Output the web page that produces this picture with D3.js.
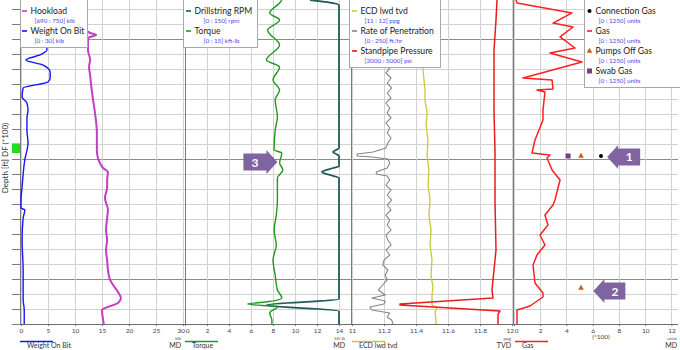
<!DOCTYPE html>
<html>
<head>
<meta charset="utf-8">
<script src="https://cdn.jsdelivr.net/npm/d3@7"></script>
<style>
  html, body { margin: 0; padding: 0; background: #fff; }
  svg { display: block; font-family: Lato, "Open Sans", sans-serif; }
</style>
</head>
<body>
<svg id="chart" width="680" height="350"></svg>
<script>
// ---- Log data: [depth ft, value] ----
const weightOnBit = [[5367.5,4.5],[5409.2,4.8],[5413.3,3.5],[5417.5,0.9],[5421.7,4.1],[5427.5,5.4],[5432.5,5.4],[5435.8,5.0],[5440.8,0.4],[5448.3,0.2],[5453.3,1.1],[5459.2,1.3],[5465.8,1.1],[5475.8,1.1],[5486.7,1.3],[5500.8,0.7],[5523.3,0.2],[5534.2,0],[5540.8,0],[5542.5,0.7],[5549.2,0.4],[5567.5,0.2],[5592.5,0.4],[5617.5,0.4],[5625.8,0.6],[5637.5,0.6]];
const hookload = [[5392.5,714.1],[5395,715.6],[5396.7,717.8],[5399.2,714.8],[5409.2,714.8],[5417.5,715.6],[5423.3,715.2],[5430,715.6],[5436.7,715.9],[5444.2,716.3],[5450.8,716.7],[5461.7,717.4],[5478.3,718.1],[5492.5,718.1],[5499.2,718.5],[5505,719.6],[5507.5,720.4],[5510.8,722.2],[5517.5,721.9],[5523.3,721.9],[5532.5,721.1],[5542.5,722.2],[5549.2,721.9],[5559.2,721.5],[5567.5,721.9],[5575.8,721.5],[5584.2,721.9],[5592.5,722.2],[5600.8,723],[5605,724.1],[5610.8,725.9],[5615.8,727],[5620,725.9],[5623.3,722.2],[5625.8,720],[5634.2,720.4],[5637.5,720.7]];
const drillstringRPM = [[5367.5,113.6],[5371.7,140],[5490.8,140],[5492.5,137.3],[5494.2,134.5],[5495.8,137.3],[5497.5,140],[5505.8,140],[5508.3,131.8],[5510.8,124.5],[5513.3,131.8],[5515.8,140],[5616.7,140],[5621.7,73.6],[5626.7,140],[5637.5,140]];
const torque = [[5367.5,8.8],[5370,8.6],[5378.3,7.7],[5384.2,8.6],[5392.5,7.5],[5405,8.6],[5417.5,7.4],[5423.3,8.6],[5434.2,8.0],[5442.5,8.6],[5450.8,8.2],[5465,8.4],[5475.8,8.2],[5492.5,8.1],[5495,8.8],[5503.3,8.6],[5509.2,8.9],[5515.8,8.4],[5525.8,8.4],[5534.2,8.4],[5546.7,8.3],[5559.2,8.1],[5571.7,8.3],[5584.2,8.0],[5596.7,8.2],[5609.2,8.4],[5615.8,8.8],[5619.2,7.3],[5620.8,5.7],[5623.3,8.4],[5628.3,7.7],[5634.2,7.9],[5637.5,7.9]];
const ecdLwdTvd = [[5417.5,11.444],[5425.8,11.444],[5434.2,11.45],[5442.5,11.456],[5450.8,11.456],[5461.7,11.469],[5471.7,11.463],[5484.2,11.475],[5496.7,11.469],[5509.2,11.481],[5521.7,11.475],[5534.2,11.488],[5546.7,11.481],[5559.2,11.494],[5571.7,11.488],[5584.2,11.5],[5596.7,11.494],[5606.7,11.506],[5613.3,11.5],[5621.7,11.5],[5624.2,11.531],[5627.5,11.519],[5634.2,11.525],[5637.5,11.525]];
const rateOfPenetration = [[5417.5,56],[5424.2,59],[5428.3,53],[5432.5,61],[5436.7,55],[5440.8,62],[5445,55],[5449.2,61],[5453.3,53],[5457.5,59],[5461.7,55],[5465.8,61],[5470,53],[5474.2,59],[5478.3,55],[5482.5,61],[5486.7,56],[5490.8,53],[5494.2,33],[5495.8,8],[5497.5,8],[5498.3,31],[5500,56],[5503.3,59],[5507.5,55],[5510.8,38],[5512.5,38],[5514.2,55],[5517.5,59],[5521.7,53],[5525.8,61],[5530,55],[5534.2,62],[5538.3,55],[5542.5,61],[5546.7,53],[5550.8,59],[5555,55],[5559.2,61],[5563.3,53],[5567.5,56],[5571.7,61],[5575.8,53],[5580,59],[5584.2,50],[5588.3,48],[5592.5,56],[5596.7,52],[5600.8,55],[5605,48],[5609.2,41],[5613.3,52],[5615.8,31],[5618.3,52],[5620.8,50],[5623.3,28],[5625.8,31],[5628.3,59],[5631.7,55],[5634.2,62],[5637.5,64]];
const standpipePressure = [[5367.5,4719],[5384.2,4700],[5409.2,4663],[5434.2,4663],[5461.7,4663],[5492.5,4681],[5534.2,4681],[5575.8,4700],[5609.2,4625],[5615.8,4644],[5620.8,2900],[5621.7,2900],[5626.7,4775],[5629.2,4738],[5637.5,4738]];
const gas = [[5367.5,15],[5370,23],[5378.3,442],[5386.7,297],[5390,450],[5398.3,351],[5407.5,465],[5411.7,274],[5419.2,518],[5432.5,69],[5434.2,290],[5441.7,297],[5442.5,175],[5444.2,236],[5459.2,221],[5467.5,221],[5484.2,160],[5495,137],[5496.7,274],[5499.2,252],[5509.2,290],[5517.5,351],[5534.2,312],[5538.3,297],[5546.7,236],[5555,259],[5563.3,198],[5571.7,236],[5580,175],[5588.3,145],[5603.3,160],[5611.7,221],[5615,221],[5622.5,122],[5625.8,23],[5637.5,23]];
const connectionGas = [[5497.5,663]];
const pumpsOffGas = [[5497.5,511],[5607.5,511]];
const swabGas = [[5497.5,412]];

// bottom tick labels for each track
const ticksTrack1 = [0,5,10,15,20,25,30];
const ticksTrack2 = [0,2,4,6,8,10,12,14];
const ticksTrack3 = [11,11.2,11.4,11.6,11.8,12];
const ticksTrack4 = [0,200,400,600,800,1000,1200];

// depth grid
const depthDomain = [5367.5, 5637.5];
const depthMinorStep = 12.5;
const depthMajor = [5400, 5500, 5600];
const bitDepth = [5487, 5495];

// callouts: label, depth, value on host scale, direction
const callouts = [
  {label: "1", depth: 5498.3, value: 710, track: 3, dir: "left", len: 33},
  {label: "2", depth: 5610,   value: 605, track: 3, dir: "left", len: 32},
  {label: "3", depth: 5502.5, value: 8.4, track: 1, dir: "right", len: 34}
];

// ---- Layout ----
const svg = d3.select("#chart");
const W = 680, plotTop = 0, plotBottom = 324;
const y = d3.scaleLinear().domain(depthDomain).range([plotTop, plotBottom]);

const tracks = [
  {x0: 20,  x1: 185, range: [21, 183]},
  {x0: 185, x1: 350, range: [185, 350]},
  {x0: 350, x1: 512, range: [352, 512]},
  {x0: 512, x1: 678, range: [514, 678]}
];

const sWob = d3.scaleLinear([0, 30], tracks[0].range);
const sHook = d3.scaleLinear([690, 750], tracks[0].range);
const sTorque = d3.scaleLinear([0, 15], tracks[1].range);
const sRpm = d3.scaleLinear([0, 150], tracks[1].range);
const sEcd = d3.scaleLinear([11, 12], tracks[2].range);
const sRop = d3.scaleLinear([0, 250], tracks[2].range);
const sSpp = d3.scaleLinear([2000, 5000], tracks[2].range);
const sGas = d3.scaleLinear([0, 1250], tracks[3].range);
const hostScales = [sWob, sTorque, sEcd, sGas];

svg.append("rect").attr("width", W).attr("height", 350).attr("fill", "#fff");

// ---- Grid ----
const grid = svg.append("g");
const depthTicks = d3.range(Math.ceil(depthDomain[0] / depthMinorStep) * depthMinorStep, depthDomain[1] + 0.01, depthMinorStep);
grid.selectAll("line.h").data(depthTicks).join("line")
  .attr("x1", 20).attr("x2", 678)
  .attr("y1", d => Math.round(y(d)) + 0.5).attr("y2", d => Math.round(y(d)) + 0.5)
  .attr("stroke", d => depthMajor.includes(d) ? "#8c8c8c" : "#d2d2d2")
  .attr("stroke-width", 1);

const vt = [
  {s: sWob, t: ticksTrack1}, {s: sTorque, t: ticksTrack2},
  {s: sEcd, t: ticksTrack3}, {s: sGas, t: ticksTrack4}
];
vt.forEach(({s, t}) => {
  grid.selectAll(null).data(t).join("line")
    .attr("x1", d => Math.round(s(d)) + 0.5).attr("x2", d => Math.round(s(d)) + 0.5)
    .attr("y1", plotTop).attr("y2", plotBottom)
    .attr("stroke", "#d2d2d2");
});
// track borders
grid.selectAll("line.b").data([20, 185, 351, 513]).join("line")
  .attr("x1", d => d + 0.5).attr("x2", d => d + 0.5)
  .attr("y1", plotTop).attr("y2", plotBottom)
  .attr("stroke", "#7a7a7a");

// left depth axis ticks
svg.append("g").selectAll("line").data(depthTicks).join("line")
  .attr("x1", 12).attr("x2", 20)
  .attr("y1", d => Math.round(y(d)) + 0.5).attr("y2", d => Math.round(y(d)) + 0.5)
  .attr("stroke", "#7a7a7a");
svg.append("rect").attr("x", 12).attr("y", y(bitDepth[0])).attr("width", 8)
  .attr("height", y(bitDepth[1]) - y(bitDepth[0])).attr("fill", "#22dd22");
svg.append("text").attr("transform", `translate(8,${(plotTop + plotBottom) / 2 - 4}) rotate(-90)`)
  .attr("text-anchor", "middle").attr("font-size", 8).attr("fill", "#333")
  .text("Depth [ft] DF (*100)");

// ---- Curves ----
const clip = svg.append("clipPath").attr("id", "plotclip").append("rect")
  .attr("x", 20).attr("y", plotTop).attr("width", 660).attr("height", plotBottom - plotTop);
const curves = svg.append("g").attr("clip-path", "url(#plotclip)");
function drawCurve(data, sx, color, width, curve) {
  curves.append("path").datum(data)
    .attr("fill", "none").attr("stroke", color).attr("stroke-width", width)
    .attr("stroke-linejoin", "round")
    .attr("d", d3.line().x(d => sx(d[1])).y(d => y(d[0])).curve(curve || d3.curveLinear));
}
drawCurve(weightOnBit, sWob, "#1515ff", 1.4, d3.curveMonotoneY);
drawCurve(hookload, sHook, "#c23ec2", 2, d3.curveMonotoneY);
drawCurve(drillstringRPM, sRpm, "#235b5b", 1.8, d3.curveMonotoneY);
drawCurve(torque, sTorque, "#1f9a1f", 1.4, d3.curveMonotoneY);
drawCurve(rateOfPenetration, sRop, "#858585", 1.1);
drawCurve(ecdLwdTvd, sEcd, "#c8c83a", 1.3);
drawCurve(standpipePressure, sSpp, "#e81c1c", 1.5);
drawCurve(gas, sGas, "#ff1f1f", 1.5);

// gas markers
curves.selectAll("circle.cg").data(connectionGas).join("circle")
  .attr("cx", d => sGas(d[1])).attr("cy", d => y(d[0])).attr("r", 2).attr("fill", "#000");
curves.selectAll("path.po").data(pumpsOffGas).join("path")
  .attr("transform", d => `translate(${sGas(d[1])},${y(d[0])})`)
  .attr("d", d3.symbol(d3.symbolTriangle, 14)).attr("fill", "#cc5c10");
curves.selectAll("rect.sw").data(swabGas).join("rect")
  .attr("x", d => sGas(d[1]) - 2.5).attr("y", d => y(d[0]) - 2.5)
  .attr("width", 5).attr("height", 5).attr("fill", "#7d3a8a");

// ---- Bottom axes ----
// labels at a shared track edge lean away from the neighbouring track
const axisLabels = [
  {s: sWob, t: ticksTrack1, f: d => d, endLean: true},
  {s: sTorque, t: ticksTrack2, f: d => d, startLean: true},
  {s: sEcd, t: ticksTrack3, f: d => d3.format(".1~f")(d), endLean: true},
  {s: sGas, t: ticksTrack4, f: d => d / 100, startLean: true}
];
svg.append("line").attr("x1", 20).attr("x2", 678).attr("y1", plotBottom + 0.5).attr("y2", plotBottom + 0.5).attr("stroke", "#6e6e6e");
axisLabels.forEach(({s, t, f, endLean, startLean}) => {
  const g = svg.append("g").attr("transform", `translate(0,${plotBottom})`)
    .call(d3.axisBottom(s).tickValues(t).tickFormat(f).tickSize(2).tickPadding(2));
  g.select(".domain").remove();
  g.selectAll("line").attr("stroke", "#6e6e6e");
  g.selectAll("text").attr("font-size", 6.5).attr("fill", "#444").attr("font-family", "Lato, sans-serif");
  const last = t[t.length - 1], first = t[0];
  if (endLean && s(last) >= s.range()[1] - 1) {
    g.selectAll(".tick").filter(d => d === last).select("text").attr("text-anchor", "end").attr("dx", 1.5);
  }
  if (startLean) {
    g.selectAll(".tick").filter(d => d === first).select("text").attr("text-anchor", "start").attr("dx", 0.3);
  }
});
svg.append("text").attr("x", 601).attr("y", 339).attr("text-anchor", "middle")
  .attr("font-size", 6.5).attr("fill", "#444").text("(*100)");

// bottom track captions
const captions = [
  {x: 20, color: "#1515ff", name: "Weight On Bit", unit: "klb", ref: "MD", right: 181},
  {x: 185, color: "#1f9a1f", name: "Torque", unit: "kft-lb", ref: "MD", right: 345},
  {x: 352, color: "#c8c83a", name: "ECD lwd tvd", unit: "ppg", ref: "TVD", right: 511},
  {x: 515, color: "#ff1f1f", name: "Gas", unit: "units", ref: "MD", right: 677}
];
captions.forEach(c => {
  svg.append("line").attr("x1", c.x).attr("x2", c.x + 33).attr("y1", 341.5).attr("y2", 341.5)
    .attr("stroke", c.color).attr("stroke-width", 1.5);
  svg.append("text").attr("x", c.x + 7).attr("y", 348).attr("font-size", 7).attr("fill", "#333").text(c.name);
  svg.append("text").attr("x", c.right).attr("y", 340).attr("text-anchor", "end")
    .attr("font-size", 4.5).attr("fill", "#555").text(c.unit);
  svg.append("text").attr("x", c.right).attr("y", 348).attr("text-anchor", "end")
    .attr("font-size", 7).attr("fill", "#333").text(c.ref);
});

// ---- Legends ----
// box: left edge and width; symX: legend key position; rangeDx: indent of the scale range line
const legends = [
  {x: 20, w: 67, symX: 22, rangeDx: 4, items: [
    {name: "Hookload", range: "[690 : 750] klb", color: "#c23ec2", sym: "line"},
    {name: "Weight On Bit", range: "[0 : 30] klb", color: "#1515ff", sym: "line"}]},
  {x: 183, w: 74, symX: 186, rangeDx: 9, items: [
    {name: "Drillstring RPM", range: "[0 : 150] rpm", color: "#235b5b", sym: "line"},
    {name: "Torque", range: "[0 : 15] kft-lb", color: "#1f9a1f", sym: "line"}]},
  {x: 349, w: 91, symX: 352, rangeDx: 4, items: [
    {name: "ECD lwd tvd", range: "[11 : 12] ppg", color: "#c8c83a", sym: "line"},
    {name: "Rate of Penetration", range: "[0 : 250] ft/hr", color: "#858585", sym: "line"},
    {name: "Standpipe Pressure", range: "[2000 : 5000] psi", color: "#e81c1c", sym: "line"}]},
  {x: 584, w: 100, symX: 587, rangeDx: 3, items: [
    {name: "Connection Gas", range: "[0 : 1250] units", color: "#000", sym: "dot"},
    {name: "Gas", range: "[0 : 1250] units", color: "#ff1f1f", sym: "line"},
    {name: "Pumps Off Gas", range: "[0 : 1250] units", color: "#cc5c10", sym: "tri"},
    {name: "Swab Gas", range: "[0 : 1250] units", color: "#7d3a8a", sym: "sq"}]}
];
legends.forEach(L => {
  const g = svg.append("g");
  const h = L.items.length * 20 + 9;
  g.append("rect").attr("x", L.x + 0.5).attr("y", -1.5).attr("width", L.w).attr("height", h)
    .attr("fill", "#fff").attr("stroke", "#a8a8a8");
  L.items.forEach((it, i) => {
    const cy = 11 + i * 20;
    const sx = L.symX;
    const tx = sx + 8.5;
    if (it.sym === "line") {
      g.append("line").attr("x1", sx).attr("x2", sx + 5).attr("y1", cy).attr("y2", cy)
        .attr("stroke", it.color).attr("stroke-width", 1.6);
    } else if (it.sym === "dot") {
      g.append("circle").attr("cx", sx + 2.5).attr("cy", cy).attr("r", 2).attr("fill", it.color);
    } else if (it.sym === "tri") {
      g.append("path").attr("transform", `translate(${sx + 2.5},${cy})`)
        .attr("d", d3.symbol(d3.symbolTriangle, 14)).attr("fill", it.color);
    } else {
      g.append("rect").attr("x", sx).attr("y", cy - 2.5).attr("width", 5).attr("height", 5).attr("fill", it.color);
    }
    g.append("text").attr("x", tx).attr("y", cy + 3.1).attr("font-size", 8.6).attr("fill", "#222").text(it.name);
    g.append("text").attr("x", tx + L.rangeDx).attr("y", cy + 11.5).attr("font-size", 6.3).attr("fill", "#4848f0").text(it.range);
  });
});

// ---- Callouts ----
const callG = svg.append("g");
callouts.forEach(c => {
  const tipX = hostScales[c.track](c.value);
  const cy = y(c.depth);
  const headL = 11, headH = 12, bodyH = 8.5;
  const k = c.dir === "left" ? 1 : -1;
  const baseX = tipX + k * headL, endX = tipX + k * c.len;
  const pts = [[tipX, cy], [baseX, cy - headH], [baseX, cy - bodyH], [endX, cy - bodyH],
               [endX, cy + bodyH], [baseX, cy + bodyH], [baseX, cy + headH]];
  callG.append("path").attr("d", "M" + pts.map(p => p.join(",")).join("L") + "Z").attr("fill", "#8064a2");
  callG.append("text").attr("x", (baseX + endX) / 2).attr("y", cy + 4.5)
    .attr("text-anchor", "middle").attr("font-size", 12).attr("font-weight", "bold")
    .attr("fill", "#fff").text(c.label);
});
</script>
</body>
</html>
